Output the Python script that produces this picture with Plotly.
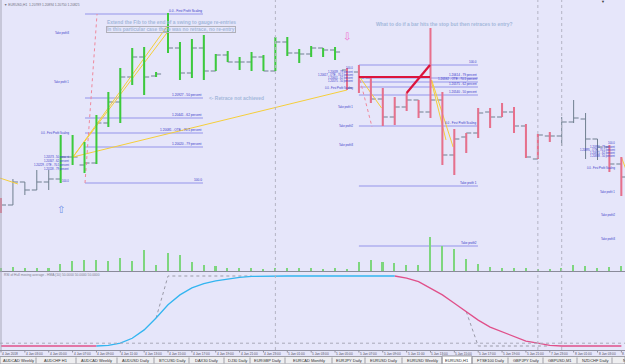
import plotly.graph_objects as go

W, H = 625, 364
BG = "#E6E6FA"
FONT = "Liberation Sans"
GREY = "#6F7F8F"
GREEN = "#3CCB3C"
RED = "#E8708C"
VOLC = "#7ED67E"
FIBC = "#9494EA"
LBLC = "#3434C8"
NOTE = "#A4B8DA"
YEL = "#F5CE3A"

# ---------------- data (price in chart points, bar index = hourly bars) ----------------
bar_index = list(range(53))
bar_open = [100, 95, 118, 110, 118, 121, 143, 135, 137, 177, 198, 223, 243, 224, 268, 252, 227, 252, 229, 245,
            238, 238, 243, 229, 258, 247, 246, 252, 250, 230, 228, 222, 201, 183, 193, 200, 188, 200, 145, 163,
            167, 188, 183, 188, 174, 141, 164, 164, 178, 181, 161, 153, 136]
bar_high = [102, 121, 118, 130, 130, 165, 165, 158, 185, 208, 232, 252, 253, 228, 287, 258, 261, 265, 246, 249,
            243, 248, 245, 263, 263, 251, 254, 252, 253, 232, 235, 223, 212, 203, 207, 200, 272, 208, 171, 167,
            192, 192, 197, 193, 176, 166, 168, 183, 200, 187, 161, 155, 143]
bar_low = [87, 95, 105, 110, 110, 117, 135, 127, 136, 173, 177, 215, 205, 223, 247, 220, 222, 220, 229, 238,
           230, 229, 229, 229, 244, 237, 243, 243, 240, 210, 207, 197, 174, 175, 189, 182, 182, 135, 125, 147,
           162, 172, 183, 167, 142, 141, 158, 154, 177, 141, 140, 128, 104]
bar_close = [95, 118, 110, 118, 121, 143, 143, 137, 177, 198, 223, 243, 223, 226, 252, 227, 252, 229, 245, 238,
             238, 243, 229, 258, 247, 246, 252, 250, 248, 212, 222, 201, 183, 193, 200, 188, 200, 145, 161, 167,
             187, 183, 188, 174, 143, 165, 164, 178, 182, 161, 153, 136, 123]
# r = bearish paint, g = bullish paint, k = unpainted
bar_class = "r" + "kkkk" + "gggggggggggggggggggggggg" + "rrrrrrrrrrrrrrrrrr" + "kkkk" + "rr"

volume = [3, 4, 3, 3, 3, 7, 10, 11, 11, 10, 13, 10, 21, 6, 18, 16, 9, 6, 5, 3,
          3, 3, 2, 3, 3, 3, 3, 2, 3, 2, 9, 11, 9, 8, 6, 6, 34, 25, 22, 12,
          7, 4, 3, 3, 3, 2, 2, 3, 6, 5, 3, 4, 5]

osc = [0, 0, 0, 0, 0, 0, 0, 0, 0, 1, 4, 11, 23, 40, 59, 73, 83, 89, 93, 96,
       98, 99.5, 100, 100, 100, 100, 100, 100, 100, 100, 100, 100, 100, 100, 97, 92, 83, 73, 61, 49,
       37, 27, 20, 13, 7, 4, 1, 0, 0, 0, 0, 0, 0]
osc_trend = "dddddddd" + "uuuuuuuuuuuuuuuuuuuuuuuuuu" + "ddddddddddddddddddd"
osc_signal = [None] * 13 + [40, 100, 100, 100, 100, 100, 100, 100, 100] + [None] * 17 + \
             [49, 0, 0, 0, 0, 0, 0, 0] + [None] * 6
osc_levels = [4]

time_ticks = list(range(0, 53, 2))
time_labels = ["4 Jan 2018", "4 Jan 03:00", "4 Jan 05:00", "4 Jan 07:00", "4 Jan 09:00", "4 Jan 11:00",
               "4 Jan 13:00", "4 Jan 15:00", "4 Jan 17:00", "4 Jan 19:00", "4 Jan 21:00", "4 Jan 23:00",
               "5 Jan 01:00", "5 Jan 03:00", "5 Jan 05:00", "5 Jan 07:00", "5 Jan 09:00", "5 Jan 11:00",
               "5 Jan 13:00", "5 Jan 15:00", "5 Jan 17:00", "5 Jan 19:00", "5 Jan 21:00", "7 Jan 23:00",
               "8 Jan 01:00", "8 Jan 03:00", "8 Jan 05:00"]
period_separators = [23, 45, 47]

# Fibonacci drawings
fib1_span = (7.04, 16.93)
fib1_levels = [286, 202, 182, 167, 153, 117]
fib1_labels = ["0.0 - First Profit Scaling", "1.20927 - 50 percent", "1.20441 - 62 percent",
               "1.20081 - OTE - 70.5 percent", "1.20020 - 79 percent", "100.0"]
fib2_span = (30.0, 39.98)
fib2_levels = [235, 222, 218, 213, 205, 174, 114, 54]
fib2_labels = ["100.0", "1.20614 - 79 percent", "1.20592 - OTE - 70.5 percent", "1.20575 - 62 percent",
               "1.20540 - 50 percent", "0.0 - First Profit Scaling", "Take profit 1", "Take profit2"]
fib0_x = 5.78
fib0_levels = [267, 218, 167, 143, 139, 135, 131, 119]
fib0_labels = ["Take profit3", "Take profit 1", "0.0 - First Profit Scaling", "1.20573 - 50 percent",
               "1.20347 - 62 percent", "1.20229 - OTE - 70.5 percent", "1.20118 - 79 percent", "100.0"]
fib3_x = 29.6
fib3_levels = [232, 228.5, 225.5, 222.5, 219.5, 212, 193, 174, 155]
fib3_labels = ["100.0", "1.20639 - 79 percent", "1.20617 - OTE - 70.5 percent", "1.20601 - 62 percent",
               "1.20575 - 50 percent", "0.0 - First Profit Scaling", "Take profit 1", "Take profit2",
               "Take profit3"]
fib4_x = 51.55
fib4_levels = [157, 153.5, 150.5, 147.5, 144.5, 132, 108, 85, 61]
fib4_labels = ["100.0", "1.20931 - 79 percent", "1.20895 - OTE - 70.5 percent", "1.20871 - 62 percent",
               "1.20838 - 50 percent", "0.0 - First Profit Scaling", "Take profit 1", "Take profit2",
               "Take profit3"]

yellow_x = [-0.1, 1.42, None, 6.03, 13.9, None, 6.03, 14.0, None, 6.03, 29.0, None, 30.0, 31.9, None,
            36.1, 37.9, None, 36.05, 37.3, None, 52.0, 52.4]
yellow_y = [122, 116, None, 143, 267, None, 143, 275, None, 143, 210, None, 224, 192, None,
            220, 153, None, 220, 160, None, 143, 130]
pinkdot_x = [7.04, 8.05, None, 30.1, 31.1]
pinkdot_y = [117, 286, None, 220, 173]
trade_x = [30.0, 35.96, None, 34.0, 35.96]
trade_y = [223, 223, None, 207, 235]

notes = [
    (8.8, 278, "Extend the Fib to the end of a swing to gauge re-entries", False),
    (8.8, 271, "In this particular case there was no retrace, no re-entry", True),
    (17.35, 202, "<- Retrace not achieved", False),
    (31.35, 276, "What to do if a bar hits the stop but then retraces to entry?", False),
]
arrows = [(5.0, 91, "⇧", "#6F8FE8"), (29.0, 264, "⇩", "#F070D0")]

tab_names = ["AUDCAD Weekly", "AUDCHF H1", "AUDCAD Weekly", "AUDUSD Daily", "BTCUSD Daily", "DAX30 Daily",
             "DJ30 Daily", "EURGBP Daily", "EURCAD Monthly", "EURJPY Daily", "EURUSD Daily", "EURUSD Weekly",
             "EURUSD,H1", "FTSE100 Daily", "GBPJPY Daily", "GBPUSD,M1", "NZDCHF Daily", "NZDCHF Daily"]
tab_edges = [0, 36, 76, 117, 154, 189, 224, 250, 285, 332, 365, 402, 442, 472, 508, 543, 577, 612, 660]
active_tab = 12

# ---------------- layout geometry (pixels) ----------------
MAIN_BOTTOM = 271
OSC_TOP, OSC_BOTTOM = 272, 350
X0_PX, STEP_PX = 1.0, 11.93


def py(p):
    return 1 - p / H


def pxp(p):
    return p / W


fig = go.Figure()

# volumes (overlay axis in main window)
fig.add_trace(go.Bar(x=bar_index, y=volume, width=0.13, marker=dict(color=VOLC, line=dict(width=0)),
                     xaxis="x", yaxis="y3", hoverinfo="skip", showlegend=False))


def seg(span, levels):
    xs, ys = [], []
    for lv in levels:
        xs += [span[0], span[1], None]
        ys += [lv, lv, None]
    return xs, ys


for span, levels in [(fib1_span, fib1_levels), (fib2_span, fib2_levels)]:
    xs, ys = seg(span, levels)
    fig.add_trace(go.Scatter(x=xs, y=ys, mode="lines", line=dict(color=FIBC, width=1),
                             hoverinfo="skip", showlegend=False))

fig.add_trace(go.Scatter(x=yellow_x, y=yellow_y, mode="lines", line=dict(color=YEL, width=1),
                         hoverinfo="skip", showlegend=False))
fig.add_trace(go.Scatter(x=pinkdot_x, y=pinkdot_y, mode="lines", line=dict(color="#F0889C", width=1, dash="dot"),
                         hoverinfo="skip", showlegend=False))

# base OHLC bars
fig.add_trace(go.Ohlc(x=bar_index, open=bar_open, high=bar_high, low=bar_low, close=bar_close,
                      increasing=dict(line=dict(color=GREY, width=1)),
                      decreasing=dict(line=dict(color=GREY, width=1)),
                      tickwidth=0.42, hoverinfo="skip", showlegend=False))

# painted bar bodies
for cls, col in [("g", GREEN), ("r", RED)]:
    xs, ys = [], []
    for k in bar_index:
        if bar_class[k] == cls:
            xs += [k, k, None]
            ys += [bar_low[k], bar_high[k], None]
    fig.add_trace(go.Scatter(x=xs, y=ys, mode="lines", line=dict(color=col, width=2),
                             hoverinfo="skip", showlegend=False))

fig.add_trace(go.Scatter(x=trade_x, y=trade_y, mode="lines", line=dict(color="#DC143C", width=2.2),
                         hoverinfo="skip", showlegend=False))

# oscillator
blue_y = [osc[k] if osc_trend[k] == "u" else None for k in bar_index]
pink_y = []
for k in bar_index:
    near = [osc_trend[j] for j in (k - 1, k, k + 1) if 0 <= j < len(bar_index)]
    pink_y.append(osc[k] if "d" in near else None)
fig.add_trace(go.Scatter(x=bar_index, y=osc_signal, mode="lines", yaxis="y2",
                         line=dict(color="#9A9AA8", width=1, dash="dot"), hoverinfo="skip", showlegend=False))
fig.add_trace(go.Scatter(x=bar_index, y=pink_y, mode="lines", yaxis="y2", line=dict(color="#E0508A", width=1.3),
                         hoverinfo="skip", showlegend=False))
fig.add_trace(go.Scatter(x=bar_index, y=blue_y, mode="lines", yaxis="y2", line=dict(color="#33B5F0", width=1.3),
                         hoverinfo="skip", showlegend=False))

# ---------------- annotations ----------------
ann = []


def txt(x, y, text, size, color, xanchor="right", yanchor="bottom", xref="x", yref="y", **kw):
    ann.append(dict(x=x, y=y, xref=xref, yref=yref, text=text, showarrow=False, xanchor=xanchor,
                    yanchor=yanchor, font=dict(family=FONT, size=size, color=color), borderpad=0, **kw))


for lv, lb in zip(fib1_levels, fib1_labels):
    txt(fib1_span[1], lv, lb, 3.2, LBLC)
for lv, lb in zip(fib2_levels, fib2_labels):
    txt(fib2_span[1], lv, lb, 3.0, LBLC)
for xx, levels, labels in [(fib0_x, fib0_levels, fib0_labels), (fib3_x, fib3_levels, fib3_labels),
                           (fib4_x, fib4_levels, fib4_labels)]:
    for lv, lb in zip(levels, labels):
        txt(xx, lv, lb, 2.7, LBLC, yanchor="middle")

for x, y, t, boxed in notes:
    kw = dict(bordercolor="#B0B0B8", borderwidth=1) if boxed else {}
    txt(x, y, "<b>" + t + "</b>", 4.9, NOTE, xanchor="left", yanchor="middle", **kw)

for x, y, t, c in arrows:
    ann.append(dict(x=x, y=y, xref="x", yref="y", text=t, showarrow=False,
                    font=dict(family="DejaVu Sans", size=10, color=c)))

txt(pxp(3), py(5), "▼ EURUSD,H1  1.20789 1.20894 1.20750 1.20825", 3.3, "#707080",
    xanchor="left", yanchor="middle", xref="paper", yref="paper")
txt(pxp(603), py(2), "▼", 4, "#404040", xanchor="center", yanchor="middle", xref="paper", yref="paper")
txt(pxp(3), py(274.5), "RSI of Hull moving average - HMA (10) 50.0000 50.0000 50.0000", 3.3, "#808090",
    xanchor="left", yanchor="middle", xref="paper", yref="paper")

for k, lb in zip(time_ticks, time_labels):
    txt(k, py(354), lb, 3.2, "#505060", xanchor="left", yanchor="middle", yref="paper")

for i, name in enumerate(tab_names):
    cx = (tab_edges[i] + tab_edges[i + 1]) / 2
    txt(pxp(cx), py(360.5), name, 4.0, "#303030", xanchor="center", yanchor="middle",
        xref="paper", yref="paper")

# ---------------- shapes ----------------
shapes = []
for k in period_separators:
    shapes.append(dict(type="line", xref="x", yref="paper", x0=k, x1=k, y0=py(OSC_BOTTOM), y1=1,
                       line=dict(color="#B4B4C4", width=1, dash="dot")))
for lv in osc_levels:
    shapes.append(dict(type="line", xref="paper", yref="y2", x0=0, x1=1, y0=lv, y1=lv,
                       line=dict(color="#A8A8B8", width=1, dash="dot")))
shapes.append(dict(type="line", xref="paper", yref="paper", x0=0, x1=1, y0=py(271.5), y1=py(271.5),
                   line=dict(color="#8A8A9A", width=1)))
shapes.append(dict(type="line", xref="paper", yref="paper", x0=pxp(1), x1=pxp(1), y0=py(OSC_BOTTOM), y1=1,
                   line=dict(color="#A8A8B8", width=1)))
shapes.append(dict(type="line", xref="paper", yref="paper", x0=0, x1=1, y0=py(350.5), y1=py(350.5),
                   line=dict(color="#9090A0", width=1)))
for k in time_ticks:
    shapes.append(dict(type="line", xref="x", yref="paper", x0=k, x1=k, y0=py(352.5), y1=py(350.5),
                       line=dict(color="#9090A0", width=1)))
shapes.append(dict(type="rect", xref="paper", yref="paper", x0=0, x1=1, y0=0, y1=py(356.5),
                   fillcolor="#EEEEF0", line=dict(color="#A0A0A8", width=1)))
shapes.append(dict(type="rect", xref="paper", yref="paper", x0=pxp(tab_edges[active_tab]),
                   x1=pxp(tab_edges[active_tab + 1]), y0=0, y1=py(356),
                   fillcolor="#FFFFFF", line=dict(color="#909098", width=1)))
for e in tab_edges[1:-1]:
    shapes.append(dict(type="line", xref="paper", yref="paper", x0=pxp(e), x1=pxp(e), y0=py(363.5),
                       y1=py(357.5), line=dict(color="#A0A0A8", width=1)))

x_lo = -X0_PX / STEP_PX
x_hi = (W - X0_PX) / STEP_PX
osc_lo = -(OSC_BOTTOM - 346) / 0.7
osc_hi = 100 + (276 - OSC_TOP) / 0.7

fig.update_layout(
    width=W, height=H, margin=dict(l=0, r=0, t=0, b=0),
    paper_bgcolor=BG, plot_bgcolor=BG, showlegend=False,
    xaxis=dict(domain=[0, 1], range=[x_lo, x_hi], visible=False, rangeslider=dict(visible=False),
               fixedrange=True),
    yaxis=dict(domain=[py(MAIN_BOTTOM), 1], range=[300 - MAIN_BOTTOM, 300], visible=False),
    yaxis2=dict(domain=[py(OSC_BOTTOM), py(OSC_TOP)], range=[osc_lo, osc_hi], visible=False),
    yaxis3=dict(domain=[py(MAIN_BOTTOM), 1], range=[0, MAIN_BOTTOM], overlaying="y", visible=False),
    annotations=ann, shapes=shapes, bargap=0,
)

fig.write_html("out.html")
